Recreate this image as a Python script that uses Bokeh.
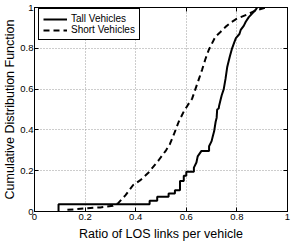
from bokeh.plotting import figure
from bokeh.models import LinearAxis, Legend, LegendItem, FixedTicker, Range1d
from bokeh.embed import file_html
from bokeh.resources import INLINE

# Data
tall_x = [0.095, 0.095, 0.455, 0.455, 0.485, 0.485, 0.53, 0.53, 0.555, 0.555, 0.575, 0.575,
          0.59, 0.59, 0.60, 0.60, 0.63, 0.63, 0.64, 0.645, 0.66, 0.69, 0.69, 0.70, 0.705,
          0.71, 0.716, 0.72, 0.722, 0.728, 0.73, 0.735, 0.74, 0.748, 0.755, 0.762, 0.772,
          0.781, 0.79, 0.796, 0.81, 0.815, 0.827, 0.835, 0.847, 0.86, 0.875, 0.88]
tall_y = [0.0, 0.035, 0.035, 0.053, 0.053, 0.072, 0.072, 0.088, 0.088, 0.104, 0.104, 0.15,
          0.15, 0.175, 0.175, 0.195, 0.195, 0.215, 0.24, 0.27, 0.297, 0.297, 0.32, 0.345,
          0.37, 0.393, 0.44, 0.46, 0.50, 0.505, 0.52, 0.545, 0.57, 0.60, 0.65, 0.71, 0.76,
          0.80, 0.83, 0.85, 0.87, 0.89, 0.91, 0.93, 0.953, 0.97, 0.99, 1.0]

short_x = [0.13, 0.17, 0.21, 0.26, 0.31, 0.33, 0.36, 0.39, 0.42, 0.45, 0.47, 0.49, 0.52,
           0.535, 0.55, 0.57, 0.59, 0.605, 0.623, 0.636, 0.65, 0.663, 0.675, 0.689, 0.70,
           0.715, 0.735, 0.755, 0.78, 0.80, 0.84, 0.874, 0.913]
short_y = [0.008, 0.012, 0.016, 0.02, 0.028, 0.04, 0.08, 0.13, 0.155, 0.19, 0.22, 0.25,
           0.30, 0.33, 0.375, 0.44, 0.49, 0.52, 0.553, 0.60, 0.65, 0.697, 0.745, 0.793,
           0.82, 0.857, 0.88, 0.905, 0.93, 0.945, 0.965, 0.985, 1.0]

ticks = [0, 0.2, 0.4, 0.6, 0.8, 1]
tick_labels = ["0", "0.2", "0.4", "0.6", "0.8", "1"]
series_names = ["Tall Vehicles", "Short Vehicles"]
x_title = "Ratio of LOS links per vehicle"
y_title = "Cumulative Distribution Function"

FONT = "Liberation Sans"

p = figure(width=291, height=243, output_backend="svg", toolbar_location=None,
           x_range=Range1d(0, 1), y_range=Range1d(0, 1),
           min_border_left=34, min_border_right=4, min_border_top=7, min_border_bottom=28)
p.background_fill_color = "white"
p.border_fill_color = "white"
p.outline_line_color = "black"
p.outline_line_width = 1

overrides = {t: l for t, l in zip(ticks, tick_labels)}
for ax in [p.xaxis[0], p.yaxis[0]]:
    ax.ticker = FixedTicker(ticks=ticks)
    ax.major_label_overrides = overrides
    ax.major_tick_in = 4
    ax.major_tick_out = 0
    ax.minor_tick_in = 0
    ax.minor_tick_out = 0
    ax.major_label_text_font = FONT
    ax.major_label_text_font_size = "9.5px"
    ax.major_label_text_color = "black"
    ax.axis_line_color = "black"
    ax.major_tick_line_color = "black"
    ax.axis_label_text_font = FONT
    ax.axis_label_text_font_size = "12.5px"
    ax.axis_label_text_font_style = "normal"
    ax.axis_label_text_color = "black"
    ax.major_label_standoff = 2
    ax.axis_label_standoff = 4
p.xaxis[0].axis_label = x_title
p.yaxis[0].axis_label = y_title
p.yaxis[0].axis_label_standoff = 0
p.yaxis[0].major_label_standoff = 1

for loc in ["above", "right"]:
    ax = LinearAxis(ticker=FixedTicker(ticks=ticks), major_tick_in=4, major_tick_out=0,
                    minor_tick_in=0, minor_tick_out=0, major_label_text_font_size="0px",
                    major_label_standoff=0, axis_line_color="black",
                    major_tick_line_color="black")
    ax.major_label_overrides = {t: "" for t in ticks}
    p.add_layout(ax, loc)

p.xgrid.ticker = FixedTicker(ticks=ticks)
p.ygrid.ticker = FixedTicker(ticks=ticks)
for g in [p.xgrid[0], p.ygrid[0]]:
    g.grid_line_color = "#9a9a9a"
    g.grid_line_dash = "1 2"
    g.grid_line_width = 1

r1 = p.line(tall_x, tall_y, line_color="black", line_width=2)
r2 = p.line(short_x, short_y, line_color="black", line_width=2, line_dash="6 4")

legend = Legend(items=[LegendItem(label=series_names[0], renderers=[r1]),
                       LegendItem(label=series_names[1], renderers=[r2])],
                location=(4, 171), orientation="vertical")
legend.margin = 0
legend.padding = 4
legend.spacing = 0
legend.glyph_width = 24
legend.glyph_height = 10
legend.label_height = 10
legend.label_standoff = 4
legend.label_text_font = FONT
legend.label_text_font_size = "10px"
legend.label_text_color = "black"
legend.border_line_color = "black"
legend.border_line_width = 1
legend.border_line_alpha = 1
legend.background_fill_color = "white"
legend.background_fill_alpha = 1
p.add_layout(legend)

open("out.html", "w").write(file_html(p, INLINE))
